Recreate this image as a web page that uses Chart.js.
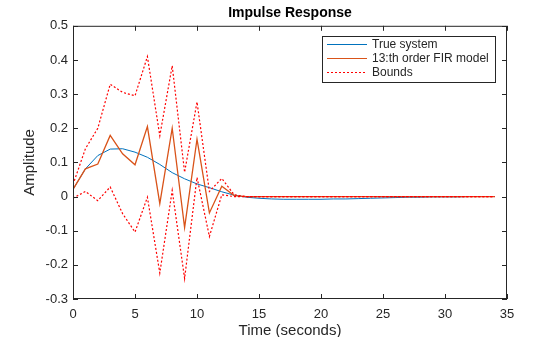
<!DOCTYPE html>
<html>
<head>
<meta charset="utf-8">
<script src="https://cdn.jsdelivr.net/npm/chart.js@4.4.1/dist/chart.umd.min.js"></script>
<style>
  html, body { margin: 0; padding: 0; background: #fff; }
  #wrap { width: 560px; height: 337px; }
</style>
</head>
<body>
<div id="wrap"><canvas id="impulse" width="560" height="337"></canvas></div>
<script>
// temps (s) et réponses
const timeSteps = [0,1,2,3,4,5,6,7,8,9,10,11,12,13,14,15,16,17,18,19,20,21,22,23,24,25,26,27,28,29,30,31,32,33,34];
const trueSystem = [0.021,0.081,0.12,0.139,0.14,0.13,0.115,0.094,0.07,0.052,0.037,0.026,0.014,0.004,-0.002,-0.005,-0.007,-0.008,-0.008,-0.008,-0.008,-0.007,-0.007,-0.006,-0.005,-0.004,-0.003,-0.002,-0.002,-0.001,-0.001,-0.001,0,0,0];
const firModel = [0.021,0.081,0.095,0.179,0.125,0.093,0.205,-0.021,0.2,-0.091,0.168,-0.048,0.03,0.003,0,0,0,0,0,0,0,0,0,0,0,0,0,0,0,0,0,0,0,0,0];
const upperBound = [0.035,0.14,0.2,0.329,0.305,0.295,0.41,0.178,0.383,0.071,0.277,0.015,0.053,0.005,0,0,0,0,0,0,0,0,0,0,0,0,0,0,0,0,0,0,0,0,0];
const lowerBound = [-0.005,0.015,-0.012,0.028,-0.05,-0.104,-0.002,-0.224,0.018,-0.24,0.056,-0.117,0.005,0,0,0,0,0,0,0,0,0,0,0,0,0,0,0,0,0,0,0,0,0,0];
const xTicks = [0,5,10,15,20,25,30,35];
const yTicks = [-0.3,-0.2,-0.1,0,0.1,0.2,0.3,0.4,0.5];
const legendLabels = ['True system', '13:th order FIR model', 'Bounds'];

const BLUE = '#0072BD';
const ORANGE = '#D95319';
const RED = '#FF0000';
const INK = '#262626';
const FONT = '"Liberation Sans", Arial, sans-serif';

const toPoints = arr => arr.map((v, i) => ({ x: timeSteps[i], y: v }));

// cadre + graduations vers l'intérieur, façon MATLAB
const boxAxes = {
    id: 'boxAxes',
    afterDatasetsDraw(chart) {
        const { ctx, chartArea: a, scales } = chart;
        ctx.save();
        ctx.strokeStyle = INK;
        ctx.lineWidth = 1;
        ctx.strokeRect(a.left + 0.5, a.top + 0.5, a.right - a.left - 1, a.bottom - a.top - 1);
        ctx.beginPath();
        xTicks.forEach(t => {
            const px = Math.round(scales.x.getPixelForValue(t)) + 0.5;
            ctx.moveTo(px, a.bottom); ctx.lineTo(px, a.bottom - 5);
            ctx.moveTo(px, a.top); ctx.lineTo(px, a.top + 5);
        });
        yTicks.forEach(t => {
            const py = Math.round(scales.y.getPixelForValue(t)) + 0.5;
            ctx.moveTo(a.left, py); ctx.lineTo(a.left + 5, py);
            ctx.moveTo(a.right, py); ctx.lineTo(a.right - 5, py);
        });
        ctx.stroke();

        // légende encadrée en haut à droite
        const lx = 322, ly = 36, lw = 173, lh = 46;
        ctx.fillStyle = '#fff';
        ctx.fillRect(lx, ly, lw, lh);
        ctx.strokeStyle = INK;
        ctx.strokeRect(lx + 0.5, ly + 0.5, lw, lh);
        const colors = [BLUE, ORANGE, RED];
        ctx.font = '12px ' + FONT;
        ctx.textBaseline = 'middle';
        legendLabels.forEach((label, i) => {
            const y = ly + 8.5 + i * 14;
            ctx.strokeStyle = colors[i];
            ctx.lineWidth = 1;
            ctx.setLineDash(i === 2 ? [2, 2] : []);
            ctx.beginPath();
            ctx.moveTo(lx + 5, y); ctx.lineTo(lx + 45, y);
            ctx.stroke();
            ctx.setLineDash([]);
            ctx.fillStyle = INK;
            ctx.fillText(label, lx + 50, y);
        });
        ctx.restore();
    }
};

const ctx = document.getElementById('impulse').getContext('2d');
new Chart(ctx, {
    type: 'line',
    data: {
        datasets: [
            { label: legendLabels[0], data: toPoints(trueSystem), borderColor: BLUE, borderWidth: 1, order: 2 },
            { label: legendLabels[1], data: toPoints(firModel), borderColor: ORANGE, borderWidth: 1.3, order: 1 },
            { label: legendLabels[2], data: toPoints(upperBound), borderColor: RED, borderWidth: 1.2, borderDash: [2, 2], order: 0 },
            { label: 'lower', data: toPoints(lowerBound), borderColor: RED, borderWidth: 1.2, borderDash: [2, 2], order: 0 }
        ]
    },
    options: {
        responsive: false,
        animation: false,
        layout: { padding: { left: 0, right: 53, top: 0, bottom: 0 } },
        elements: { point: { radius: 0 }, line: { tension: 0 } },
        plugins: {
            legend: { display: false },
            tooltip: { enabled: false },
            title: {
                display: true,
                fullSize: false,
                text: 'Impulse Response',
                color: '#000',
                font: { family: FONT, size: 14, weight: 'bold' },
                padding: { top: 5, bottom: 4 }
            }
        },
        scales: {
            x: {
                type: 'linear',
                min: 0, max: 35,
                grid: { display: false, drawTicks: false },
                border: { display: false },
                afterBuildTicks: s => { s.ticks = xTicks.map(v => ({ value: v })); },
                afterFit: s => { s.height = 38; },
                ticks: { color: INK, font: { family: FONT, size: 13 }, padding: 8, maxRotation: 0 },
                title: { display: true, text: 'Time (seconds)', color: INK, font: { family: FONT, size: 15 }, padding: { top: 0, bottom: -3 } }
            },
            y: {
                min: -0.3, max: 0.5,
                grid: { display: false, drawTicks: false },
                border: { display: false },
                afterBuildTicks: s => { s.ticks = yTicks.map(v => ({ value: v })); },
                afterFit: s => { s.width = 73; },
                ticks: {
                    color: INK, font: { family: FONT, size: 13 }, padding: 5,
                    callback: v => Math.abs(v) < 1e-9 ? '0' : String(Math.round(v * 10) / 10)
                },
                title: { display: true, text: 'Amplitude', color: INK, font: { family: FONT, size: 15 }, padding: { top: 21, bottom: 0 } }
            }
        }
    },
    plugins: [boxAxes]
});
</script>
</body>
</html>
